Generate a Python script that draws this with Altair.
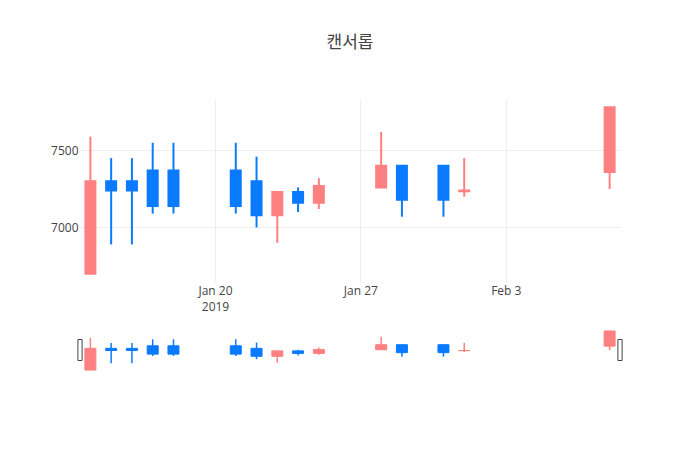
import altair as alt
import pandas as pd

dates = ["2019-01-14", "2019-01-15", "2019-01-16", "2019-01-17", "2019-01-18",
         "2019-01-21", "2019-01-22", "2019-01-23", "2019-01-24", "2019-01-25",
         "2019-01-28", "2019-01-29", "2019-01-31", "2019-02-01", "2019-02-08"]
open_ = [6700, 7300, 7300, 7370, 7370, 7370, 7300, 7080, 7230, 7160, 7260, 7400, 7400, 7235, 7360]
close = [7300, 7240, 7240, 7140, 7140, 7140, 7080, 7230, 7160, 7270, 7400, 7180, 7180, 7240, 7780]
high = [7590, 7450, 7450, 7550, 7550, 7550, 7460, 7230, 7260, 7320, 7620, 7400, 7400, 7450, 7780]
low = [6700, 6890, 6890, 7090, 7090, 7090, 7000, 6900, 7100, 7120, 7260, 7070, 7070, 7200, 7250]

y_ticks = [7000, 7500]
y_domain = [6646, 7834]
title_text = "캔서롭"

UP = "#FF8080"
DOWN = "#0A7AFF"

df = pd.DataFrame({
    "date": [d + "T00:00:00" for d in dates],
    "open": open_, "close": close, "high": high, "low": low,
})
df["dir"] = ["up" if c >= o else "down" for o, c in zip(open_, close)]

x_domain = [alt.DateTime(year=2019, month=1, date=13, hours=12),
            alt.DateTime(year=2019, month=2, date=8, hours=12)]
x_ticks = [alt.DateTime(year=2019, month=1, date=20),
           alt.DateTime(year=2019, month=1, date=27),
           alt.DateTime(year=2019, month=2, date=3)]

color = alt.Color("dir:N", scale=alt.Scale(domain=["up", "down"], range=[UP, DOWN]), legend=None)

x_main = alt.X("date:T", title=None, scale=alt.Scale(domain=x_domain, padding=0),
               axis=alt.Axis(values=x_ticks, grid=True, gridColor="#eee", ticks=False, domain=False,
                             labelExpr="(month(datum.value) == 0 && date(datum.value) == 20) ? [timeFormat(datum.value, '%b %-d'), '2019'] : timeFormat(datum.value, '%b %-d')",
                             labelPadding=3, labelLineHeight=16, labelFont="Open Sans", labelFontSize=12,
                             labelColor="#444", minExtent=30, maxExtent=30, labelFlush=False))
y_main_axis = alt.Axis(values=y_ticks, format="d", grid=True, gridColor="#eee", ticks=False, domain=False,
                       labelPadding=2, labelFont="Open Sans", labelFontSize=12, labelColor="#444",
                       minExtent=30, maxExtent=30)

base = alt.Chart(df)

wick = base.mark_rule(strokeWidth=2).encode(
    x=x_main,
    y=alt.Y("low:Q", scale=alt.Scale(domain=y_domain), axis=y_main_axis, title=None),
    y2="high:Q",
    color=color,
)
body = base.mark_bar(size=10, strokeWidth=2).encode(
    x=x_main,
    y=alt.Y("open:Q", scale=alt.Scale(domain=y_domain), axis=y_main_axis, title=None),
    y2="close:Q",
    color=color,
    stroke=color,
)
main = alt.layer(wick, body).properties(width=540, height=183)

x_sl = alt.X("date:T", scale=alt.Scale(domain=x_domain, padding=0), axis=None)
y_sl_scale = alt.Scale(domain=y_domain)
s_wick = base.mark_rule(strokeWidth=1.5).encode(
    x=x_sl, y=alt.Y("low:Q", scale=y_sl_scale, axis=None), y2="high:Q", color=color)
s_body = base.mark_bar(size=11, strokeWidth=1).encode(
    x=x_sl, y=alt.Y("open:Q", scale=y_sl_scale, axis=None), y2="close:Q", color=color, stroke=color)

handles_df = pd.DataFrame({"edge": ["2019-01-13T12:00:00", "2019-02-08T12:00:00"]})
handles = alt.Chart(handles_df).mark_point(
    shape="M-0.2,-1H0.2V1H-0.2Z", size=440, filled=True, fill="white", stroke="#444",
    strokeWidth=1, opacity=1,
).encode(x=alt.X("edge:T", scale=alt.Scale(domain=x_domain, padding=0), axis=None), y=alt.value(21))

slider = alt.layer(s_wick, s_body, handles).properties(width=540, height=43)

chart = alt.vconcat(main, slider, spacing=17).properties(
    title=alt.TitleParams(title_text, anchor="middle", frame="group", font="Noto Sans CJK KR",
                          fontSize=17, fontWeight="normal", color="#444", offset=47),
    padding={"left": 42, "top": 26, "right": 20, "bottom": 10},
    background="white",
).configure_view(stroke=None)

chart.save("out.html", embed_options={"renderer": "svg", "actions": False})
